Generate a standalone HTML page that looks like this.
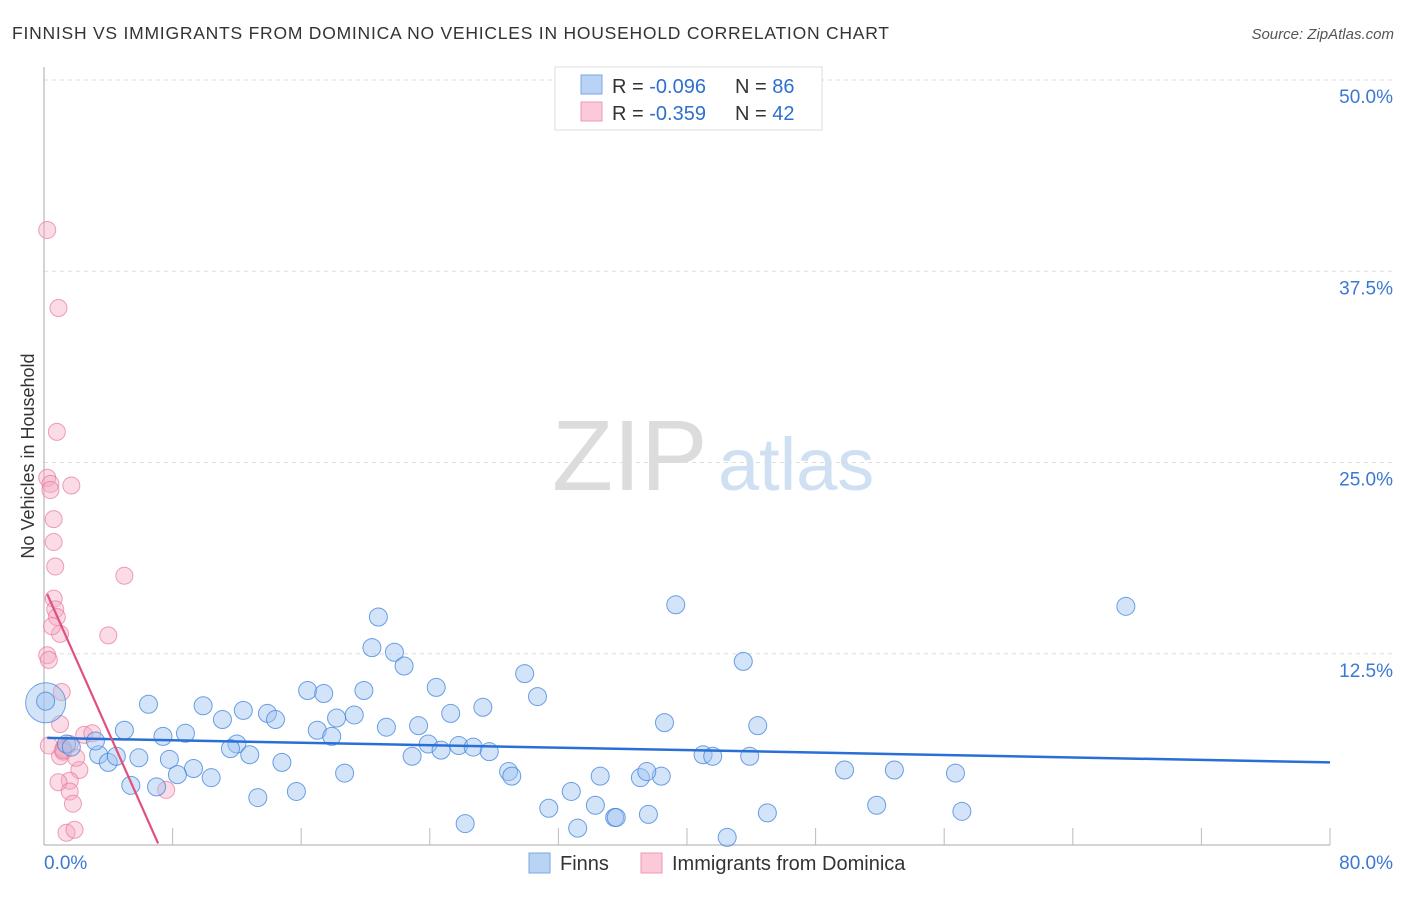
<!DOCTYPE html>
<html><head><meta charset="utf-8">
<style>
body{margin:0;background:#fff;font-family:"Liberation Sans",sans-serif;}
svg text{font-family:"Liberation Sans",sans-serif;}
</style></head>
<body>
<svg id="chart" width="1406" height="892" xmlns="http://www.w3.org/2000/svg">
<text x="12" y="39" font-size="17.5" fill="#333" textLength="877" lengthAdjust="spacing">FINNISH VS IMMIGRANTS FROM DOMINICA NO VEHICLES IN HOUSEHOLD CORRELATION CHART</text>
<text x="1394" y="39" font-size="15" fill="#555" text-anchor="end" font-style="italic">Source: ZipAtlas.com</text>
<text x="552" y="490" font-size="100" fill="#dcdcdc" font-family="Liberation Serif,serif">ZIP</text>
<text x="718" y="490" font-size="74" fill="#cfe0f3">atlas</text>
<text transform="translate(34,456) rotate(-90)" font-size="18" fill="#333" text-anchor="middle">No Vehicles in Household</text>
<g id="grid"></g><g id="ticks"></g>
<g id="pinkpts"></g><g id="bluepts"></g><g id="trends"></g>
<g>
<rect x="555" y="67" width="267" height="63" fill="#fff" stroke="#ddd"/>
<rect x="581" y="75" width="21" height="19" fill="#b8d3f3" stroke="#7aaae6"/>
<rect x="581" y="102" width="21" height="19" fill="#fbc9d7" stroke="#ef9ab4"/>
<text x="612" y="93" font-size="20" fill="#333">R = <tspan fill="#2e6fd0">-0.096</tspan></text>
<text x="735" y="93" font-size="20" fill="#333">N = <tspan fill="#2e6fd0">86</tspan></text>
<text x="612" y="120" font-size="20" fill="#333">R = <tspan fill="#2e6fd0"> -0.359</tspan></text>
<text x="735" y="120" font-size="20" fill="#333">N = <tspan fill="#2e6fd0">42</tspan></text>
</g>
<g>
<rect x="529" y="853" width="21" height="20" fill="#b8d3f3" stroke="#7aaae6"/>
<text x="560" y="870" font-size="20" fill="#333">Finns</text>
<rect x="641" y="853" width="21" height="20" fill="#fbc9d7" stroke="#ef9ab4"/>
<text x="672" y="870" font-size="20" fill="#333">Immigrants from Dominica</text>
</g>
</svg>
<script>
const xTicksPct=[0,80];
const yTicksPct=[12.5,25,37.5,50];
const blueX=[6.5,9.9,12.4,13.9,11.1,14.4,8.8,7.4,5.0,12.0,3.4,5.9,7.8,11.6,12.8,14.8,9.3,8.3,10.4,4.0,4.5,5.4,7.0,13.3,15.7,16.4,17.4,19.9,18.2,17.0,17.9,19.3,21.3,23.3,18.7,20.8,20.4,21.8,22.4,24.4,25.3,27.3,22.9,23.9,24.7,25.8,26.7,27.7,29.9,30.7,28.9,29.1,31.4,32.8,33.2,34.6,34.3,35.5,35.6,37.6,37.1,38.4,37.5,26.2,39.3,38.6,41.0,41.6,43.9,43.5,44.4,42.5,45.0,49.8,52.9,51.8,56.7,57.1,67.3,0.1,1.4,1.7,3.2];
const blueY=[9.2,9.1,8.8,8.6,8.2,8.2,7.3,7.1,7.5,6.6,5.9,5.7,5.6,6.3,5.9,5.4,5.0,4.6,4.4,5.4,5.8,3.9,3.8,3.1,3.5,10.1,9.9,10.1,8.3,7.5,7.1,8.5,7.7,7.8,4.7,14.9,12.9,12.6,11.7,10.3,8.6,9.0,5.8,6.6,6.2,6.5,6.4,6.1,11.2,9.7,4.8,4.5,2.4,3.5,1.1,4.5,2.6,1.8,1.8,2.0,4.4,4.5,4.8,1.4,15.7,8.0,5.9,5.8,5.8,12.0,7.8,0.5,2.1,4.9,4.9,2.6,4.7,2.2,15.6,9.4,6.6,6.4,6.8];
const pinkX=[0.2,0.9,0.8,0.2,0.4,0.4,1.7,0.6,0.6,0.7,5.0,0.6,0.7,0.8,1.0,0.5,0.2,0.3,4.0,1.1,1.0,2.5,1.6,1.2,1.0,1.2,3.0,2.2,1.6,0.9,1.6,1.8,1.4,1.9,7.6,0.3,1.2,2.0];
const pinkY=[40.2,35.1,27.0,24.0,23.6,23.2,23.5,21.3,19.8,18.2,17.6,16.1,15.4,14.9,13.8,14.3,12.4,12.1,13.7,10.0,7.9,7.2,6.6,6.3,5.8,6.1,7.3,4.9,4.2,4.1,3.5,2.7,0.8,1.0,3.6,6.5,6.2,5.7];
const blueBig={x:0.1,y:9.3};
const blueTrend=[[0.2,7.0],[80,5.4]];
const pinkTrend=[[0.2,16.4],[7.1,0.1]];
const NS="http://www.w3.org/2000/svg";
const X0=44,X1=1330,Y0=845,Y50=80;
const sx=v=>X0+v/80*(X1-X0);
const sy=v=>Y0-v/50*(Y0-Y50);
function mk(tag,attrs,parent){const e=document.createElementNS(NS,tag);for(const k in attrs)e.setAttribute(k,attrs[k]);document.getElementById(parent).appendChild(e);return e;}
yTicksPct.forEach(v=>{
 const l=mk('line',{x1:X0,x2:1394,y1:sy(v),y2:sy(v),stroke:'#ddd','stroke-dasharray':'4,4'},'grid');
 
 
 const t=mk('text',{x:1393,y:sy(v)+23,'font-size':19,fill:'#3b78d4','text-anchor':'end'},'ticks');
 t.textContent=v.toFixed(1)+'%';
 
 
});
let ax=mk('line',{x1:X0,x2:X1,y1:Y0,y2:Y0,stroke:'#aaa'},'grid');


let ay=mk('line',{x1:X0,x2:X0,y1:67,y2:Y0,stroke:'#aaa'},'grid');


for(let i=1;i<=10;i++){
 const tk=mk('line',{x1:sx(i*8),x2:sx(i*8),y1:828,y2:Y0,stroke:'#bbb'},'grid');
 
 
}
xTicksPct.forEach((v,i)=>{
 const t=mk('text',{x:i==0?44:1393,y:869,'font-size':19,fill:'#3b78d4','text-anchor':i==0?'start':'end'},'ticks');
 t.textContent=v.toFixed(1)+'%';
 
 
});
pinkX.forEach((v,i)=>{
 const c=mk('circle',{cx:sx(v),cy:sy(pinkY[i]),r:8.5,fill:'rgba(246,168,192,0.4)',stroke:'rgba(232,120,155,0.7)','stroke-width':1},'pinkpts');
 
 
});
const bb=mk('circle',{cx:sx(blueBig.x),cy:sy(blueBig.y),r:20,fill:'rgba(160,196,240,0.45)',stroke:'rgba(60,130,220,0.7)'},'bluepts');


blueX.forEach((v,i)=>{
 const c=mk('circle',{cx:sx(v),cy:sy(blueY[i]),r:9,fill:'rgba(160,196,240,0.45)',stroke:'rgba(60,130,220,0.75)','stroke-width':1},'bluepts');
 
 
});
const bt=mk('line',{x1:sx(blueTrend[0][0]),y1:sy(blueTrend[0][1]),x2:sx(blueTrend[1][0]),y2:sy(blueTrend[1][1]),stroke:'#2a6fd6','stroke-width':2.5},'trends');


const pt=mk('line',{x1:sx(pinkTrend[0][0]),y1:sy(pinkTrend[0][1]),x2:sx(pinkTrend[1][0]),y2:sy(pinkTrend[1][1]),stroke:'#e0507e','stroke-width':2.2},'trends');


</script>
</body></html>
